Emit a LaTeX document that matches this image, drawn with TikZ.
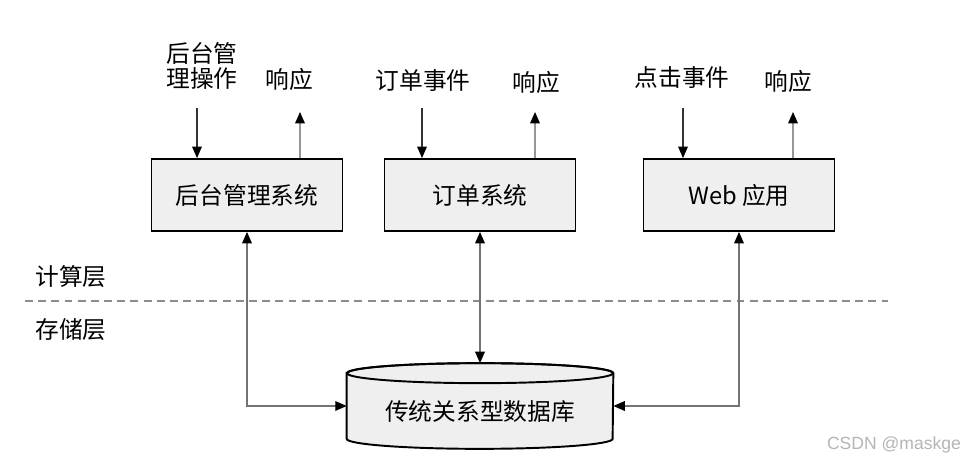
\documentclass[tikz,border=0pt]{standalone}
\usepackage{fontspec}
\setmainfont{Noto Sans CJK SC}
\newfontfamily\markfont{Liberation Sans}
\usetikzlibrary{calc}
\usetikzlibrary{arrows.meta}
\usetikzlibrary{backgrounds}
\definecolor{boxgray}{RGB}{239, 239, 239}
\definecolor{linegray}{RGB}{115, 115, 115}
\definecolor{lightline}{RGB}{150, 150, 150}
\definecolor{dashgray}{RGB}{140, 140, 140}
\definecolor{markgray}{RGB}{180, 180, 180}
\tikzset{
  txt/.style={inner sep=0pt, font=\fontsize{13.5pt}{14.5pt}\selectfont},
  sysbox/.style={txt, draw=black, fill=boxgray, line width=1.1pt,
                 minimum width=3.82cm, minimum height=1.44cm},
  dbbox/.style={txt, minimum width=5.32cm, minimum height=1.70cm},
  dbline/.style={draw=black, fill=boxgray, line width=1.1pt},
  inarrow/.style={draw=black!80, line width=0.6pt, -{Triangle[length=6.5pt, width=5.5pt, black]}},
  outarrow/.style={draw=lightline, line width=0.8pt, -{Triangle[length=6.5pt, width=5.5pt, black]}},
  dbarrow/.style={draw=linegray, line width=0.7pt,
                  {Triangle[length=6.5pt, width=5.5pt, black]}-{Triangle[length=6.5pt, width=5.5pt, black]}}
}

\begin{document}
\begin{tikzpicture}[x=0.02cm, y=-0.02cm]
  \useasboundingbox (0,0) rectangle (966,462);

  % systems
  \node[sysbox] (box1) at (247,195) {后台管理系统};
  \node[sysbox] (box2) at (480,195) {订单系统};
  \node[sysbox] (box3) at (739,195) {Web 应用};

  % requests and responses
  \node[txt, align=center] (in1)  at (202,66) {后台管\\理操作};
  \node[txt]               (res1) at (289,79) {响应};
  \node[txt]               (in2)  at (423,81) {订单事件};
  \node[txt]               (res2) at (536,82) {响应};
  \node[txt]               (in3)  at (682,78) {点击事件};
  \node[txt]               (res3) at (788,81) {响应};

  \coordinate (in1-s)  at (197,108);
  \coordinate (in2-s)  at (422,108);
  \coordinate (in3-s)  at (683,108);
  \coordinate (out1)   at (300,112);
  \coordinate (out2)   at (535,112);
  \coordinate (out3)   at (793,112);

  \draw[inarrow]  (in1-s) -- (in1-s |- box1.north);
  \draw[inarrow]  (in2-s) -- (in2-s |- box2.north);
  \draw[inarrow]  (in3-s) -- (in3-s |- box3.north);
  \draw[outarrow] (out1 |- box1.north) -- (out1);
  \draw[outarrow] (out2 |- box2.north) -- (out2);
  \draw[outarrow] (out3 |- box3.north) -- (out3);

  % layers
  \node[txt] (layer-up)   at (71,277) {计算层};
  \node[txt] (layer-down) at (71,330) {存储层};
  \coordinate (split-w) at (25,301);
  \coordinate (split-e) at (888,301);
  \draw[dashgray, line width=0.8pt, dash pattern=on 4.5pt off 3pt] (split-w) -- (split-e);

  % database
  \node[dbbox] (db) at (480,406) {\raisebox{-3pt}[\height][\depth]{传统关系型数据库}};
  \begin{scope}[on background layer]
    \filldraw[dbline] ($(db.north west)+(0,10)$) -- ($(db.south west)-(0,10)$)
        arc[start angle=180, end angle=360, x radius=2.66cm, y radius=0.2cm]
        -- ($(db.north east)+(0,10)$)
        arc[start angle=0, end angle=180, x radius=2.66cm, y radius=0.2cm] -- cycle;
    \draw[dbline, fill=none] ($(db.north)+(0,10)$) ellipse[x radius=2.66cm, y radius=0.2cm];
  \end{scope}

  \draw[dbarrow] (box1.south) |- (db.west);
  \draw[dbarrow] (box2.south) -- (db.north);
  \draw[dbarrow] (box3.south) |- (db.east);

  \node[font=\markfont\fontsize{10pt}{12pt}\selectfont, text=markgray, inner sep=0pt] (wm) at (894,445) {CSDN @maskge};
\end{tikzpicture}
\end{document}
